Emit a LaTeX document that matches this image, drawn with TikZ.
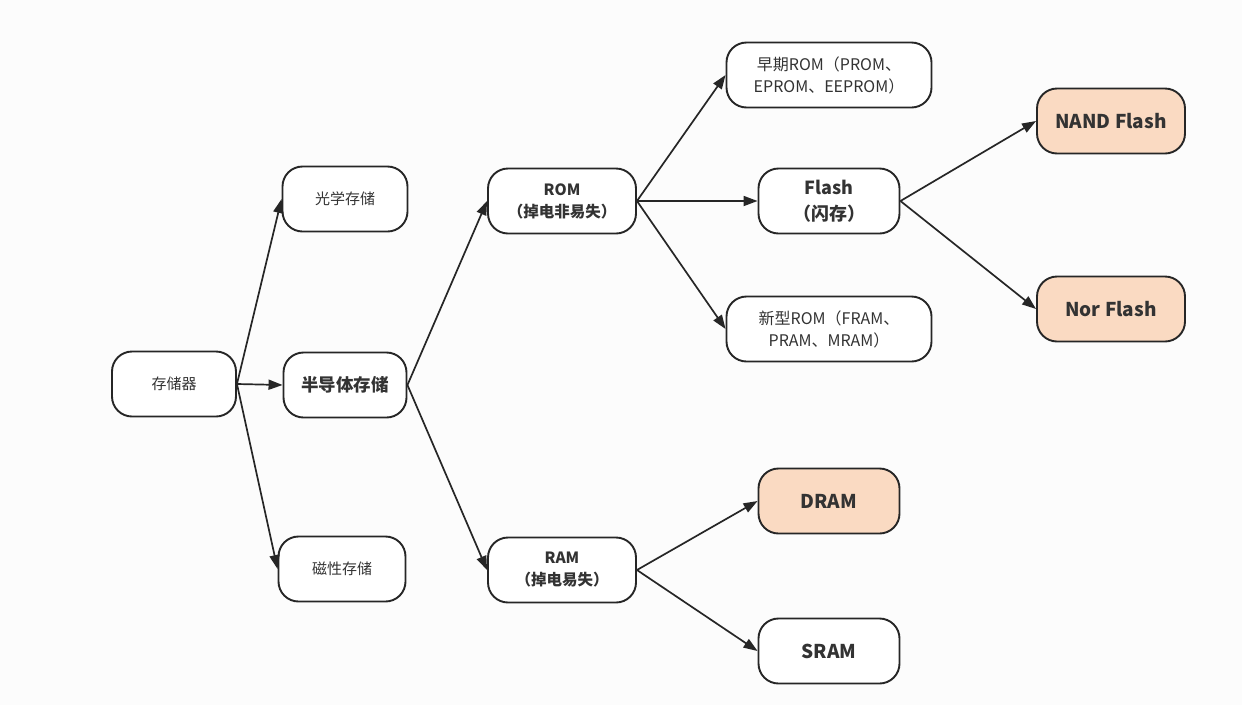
\documentclass[tikz,border=0pt]{standalone}
\usepackage{fontspec}
\setmainfont{Noto Sans CJK SC}
\usetikzlibrary{arrows.meta}
\definecolor{bg}{HTML}{FCFCFC}
\definecolor{ln}{HTML}{262626}
\definecolor{tx}{HTML}{333333}
\definecolor{peach}{HTML}{FADAC2}
\tikzset{
  box/.style={draw=ln, line width=1.9pt, rounded corners=20pt, fill=white, text=tx,
    minimum height=65pt, inner sep=0pt, align=center, font=\fontsize{15}{19}\selectfont},
  hot/.style={box, fill=peach},
  bold/.style={font=\fontsize{19}{23}\selectfont\bfseries},
  mid/.style={font=\fontsize{15.5}{22}\selectfont\bfseries},
  two/.style={font=\fontsize{16}{22}\selectfont},
  conn/.style={draw=ln, line width=1.7pt, -{Triangle[length=14pt,width=10pt]}}
}
\begin{document}
\begin{tikzpicture}[x=1pt,y=-1pt]
\fill[bg] (0,0) rectangle (1242,705);
\useasboundingbox (0,0) rectangle (1242,705);
\node[box, minimum width=124pt] (mem) at (174,384) {存储器};
\node[box, minimum width=125pt] (opt) at (345,199) {光学存储};
\node[box, minimum width=123pt, font=\fontsize{17.5}{21}\selectfont\bfseries] (semi) at (345,385) {半导体存储};
\node[box, minimum width=127pt] (mag) at (342,569) {磁性存储};
\node[box, minimum width=148pt, mid] (rom) at (562,201) {ROM\\（掉电非易失）};
\node[box, minimum width=148pt, mid] (ram) at (562,570) {RAM\\（掉电易失）};
\node[box, minimum width=205pt, two] (early) at (829,75) {早期ROM（PROM、\\EPROM、EEPROM）};
\node[box, minimum width=141pt, font=\fontsize{18}{26}\selectfont\bfseries] (flash) at (829,201) {Flash\\（闪存）};
\node[box, minimum width=205pt, two] (new) at (829,329) {新型ROM（FRAM、\\PRAM、MRAM）};
\node[hot, minimum width=148pt, bold] (nand) at (1111,121) {NAND Flash};
\node[hot, minimum width=148pt, bold] (nor) at (1111,309) {Nor Flash};
\node[hot, minimum width=141pt, bold] (dram) at (829,501) {DRAM};
\node[box, minimum width=141pt, bold] (sram) at (829,651) {SRAM};
\draw[conn] (mem.east) -- (opt.west);
\draw[conn] (mem.east) -- (semi.west);
\draw[conn] (mem.east) -- (mag.west);
\draw[conn] (semi.east) -- (rom.west);
\draw[conn] (semi.east) -- (ram.west);
\draw[conn] (rom.east) -- (early.west);
\draw[conn] (rom.east) -- (flash.west);
\draw[conn] (rom.east) -- (new.west);
\draw[conn] (flash.east) -- (nand.west);
\draw[conn] (flash.east) -- (nor.west);
\draw[conn] (ram.east) -- (dram.west);
\draw[conn] (ram.east) -- (sram.west);
\end{tikzpicture}
\end{document}
